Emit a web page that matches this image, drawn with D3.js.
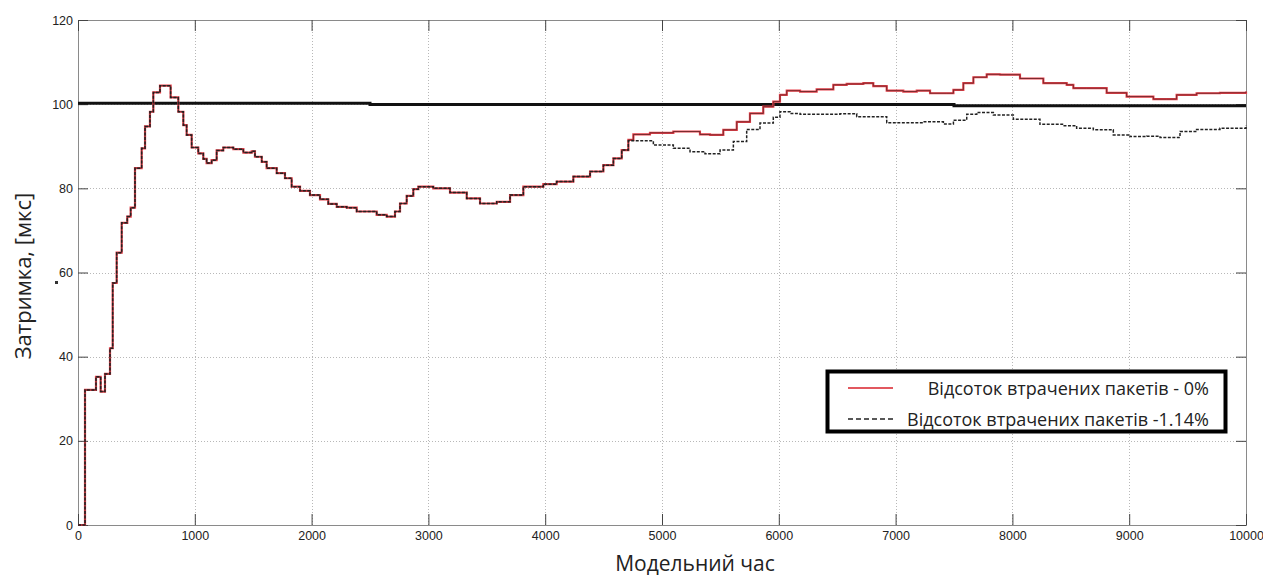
<!DOCTYPE html>
<html>
<head>
<meta charset="utf-8">
<script src="https://cdn.jsdelivr.net/npm/d3@7"></script>
<style>
  html, body { margin: 0; padding: 0; background: #fff; }
  svg { display: block; }
</style>
</head>
<body>
<svg id="chart" width="1263" height="578"></svg>
<script>
// ---- data ----
const xTicks = [0, 1000, 2000, 3000, 4000, 5000, 6000, 7000, 8000, 9000, 10000];
const yTicks = [0, 20, 40, 60, 80, 100, 120];

const redTimes = [0, 60, 154, 194, 231, 274, 297, 331, 374, 422, 451, 488, 545, 574, 616, 645, 702, 793, 859, 902, 930, 973, 1030, 1073, 1101, 1144, 1187, 1244, 1330, 1416, 1487, 1515, 1573, 1615, 1701, 1772, 1829, 1901, 1986, 2072, 2143, 2215, 2301, 2386, 2557, 2643, 2714, 2757, 2814, 2871, 2914, 3042, 3185, 3328, 3442, 3585, 3699, 3813, 3984, 4098, 4241, 4384, 4498, 4584, 4655, 4712, 4755, 4897, 5097, 5325, 5411, 5525, 5640, 5753, 5867, 5953, 6010, 6068, 6182, 6324, 6467, 6581, 6724, 6809, 6924, 7066, 7181, 7295, 7438, 7495, 7580, 7666, 7780, 7894, 8065, 8265, 8465, 8522, 8636, 8807, 8978, 9092, 9207, 9321, 9406, 9577, 9777, 10000];
const redValues = [0, 32.1, 35.2, 31.7, 35.9, 42, 57.5, 64.7, 71.8, 73.3, 75.4, 84.8, 89.5, 94.7, 98.2, 102.8, 104.4, 101.6, 98.2, 95, 92.7, 89.7, 88.3, 87, 86, 86.7, 89, 89.7, 89.3, 88.5, 88.8, 87.5, 86.3, 84.8, 83.6, 82.4, 80.4, 79.4, 78.4, 77.4, 76.3, 75.6, 75.4, 74.5, 73.7, 73.3, 74.5, 76.4, 78.2, 79.8, 80.4, 80, 79, 77.6, 76.4, 76.8, 78.4, 80.4, 81, 81.6, 82.8, 84, 85.5, 87.1, 89.1, 91.5, 92.8, 93.2, 93.5, 92.8, 92.7, 93.9, 95.8, 97.8, 99.4, 100.6, 102.2, 103.2, 103, 103.5, 104.6, 104.8, 105, 104.3, 103.2, 103, 103.2, 102.6, 102.6, 103.4, 105, 106.4, 107.1, 107, 106.1, 105, 104.6, 103.8, 103.8, 102.7, 101.8, 101.8, 101.2, 101.2, 102.2, 102.6, 102.7, 103];

// dashed series: identical to the red one up to t = 4655, then its own readings
const dashTimesTail = [4712, 4755, 4926, 5097, 5240, 5368, 5497, 5611, 5725, 5839, 5953, 6010, 6096, 6182, 6524, 6667, 6781, 6924, 7095, 7238, 7409, 7495, 7609, 7695, 7837, 8008, 8236, 8436, 8550, 8693, 8864, 9007, 9150, 9264, 9435, 9577, 9777, 10000];
const dashValuesTail = [91.3, 91.3, 90.3, 89.5, 88.7, 88.2, 89.1, 91.1, 94, 95.5, 96.9, 98.2, 97.8, 97.6, 97.7, 97, 97, 95.6, 95.6, 95.8, 95.3, 96.2, 97.6, 98, 97.4, 96.4, 95.2, 94.9, 94.3, 93.9, 92.7, 92.3, 92.4, 92.1, 93.5, 94, 94.3, 95];
const sharedCount = 65; // points of the red series up to t = 4655

const refTimes = [0, 2500, 7500, 10000];
const refValues = [100.2, 99.9, 99.6, 99.6];

const seriesLabels = ["Відсоток втрачених пакетів - 0%", "Відсоток втрачених пакетів -1.14%"];
const xTitle = "Модельний час";
const yTitle = "Затримка, [мкс]";

// ---- layout ----
const svg = d3.select("#chart");
const L = 78, R = 1246, T = 20, B = 525;
const x = d3.scaleLinear().domain([0, 10000]).range([L, R]);
const y = d3.scaleLinear().domain([0, 120]).range([B, T]);

const redData = redTimes.map((t, i) => [t, redValues[i]]);
const dashData = redData.slice(0, sharedCount).concat(dashTimesTail.map((t, i) => [t, dashValuesTail[i]]));
const refData = refTimes.map((t, i) => [t, refValues[i]]);

// grid
const grid = svg.append("g").attr("stroke", "#b8b8b8").attr("stroke-width", 1).attr("stroke-dasharray", "1,2");
grid.selectAll("line.v").data(xTicks.slice(1, -1)).join("line")
  .attr("x1", d => Math.round(x(d)) + 0.5).attr("x2", d => Math.round(x(d)) + 0.5)
  .attr("y1", T).attr("y2", B);
grid.selectAll("line.h").data(yTicks.slice(1, -1)).join("line")
  .attr("y1", d => Math.round(y(d)) + 0.5).attr("y2", d => Math.round(y(d)) + 0.5)
  .attr("x1", L).attr("x2", R);

// frame
svg.append("rect").attr("x", L + 0.5).attr("y", T + 0.5).attr("width", R - L).attr("height", B - T)
  .attr("fill", "none").attr("stroke", "#8a8a8a").attr("stroke-width", 1);

// axes with inward ticks
const axB = svg.append("g").attr("transform", `translate(0,${B})`)
  .call(d3.axisBottom(x).tickValues(xTicks).tickFormat(d3.format("d")).tickSizeInner(-11).tickSizeOuter(0).tickPadding(6));
const axT = svg.append("g").attr("transform", `translate(0,${T})`)
  .call(d3.axisTop(x).tickValues(xTicks).tickFormat("").tickSizeInner(-11).tickSizeOuter(0));
const axL = svg.append("g").attr("transform", `translate(${L},0)`)
  .call(d3.axisLeft(y).tickValues(yTicks).tickFormat(d3.format("d")).tickSizeInner(-10).tickSizeOuter(0).tickPadding(5));
const axR = svg.append("g").attr("transform", `translate(${R},0)`)
  .call(d3.axisRight(y).tickValues(yTicks).tickFormat("").tickSizeInner(-10).tickSizeOuter(0));
[axB, axT, axL, axR].forEach(a => {
  a.select(".domain").remove();
  a.selectAll(".tick line").attr("stroke", "#444");
  a.selectAll("text").attr("font-family", "'Liberation Sans', Arial, sans-serif").attr("font-size", 12.5).attr("fill", "#222");
});

// reference line
svg.append("path").datum(refData)
  .attr("d", d3.line().x(d => x(d[0])).y(d => y(d[1])).curve(d3.curveStepAfter))
  .attr("fill", "none").attr("stroke", "#111").attr("stroke-width", 3);

// red series (halo + core)
const step = d3.line().x(d => x(d[0])).y(d => y(d[1])).curve(d3.curveStepAfter);
svg.append("path").datum(redData).attr("d", step)
  .attr("fill", "none").attr("stroke", "#e8404a").attr("stroke-width", 2.2);
svg.append("path").datum(redData).attr("d", step)
  .attr("fill", "none").attr("stroke", "#7a2a2e").attr("stroke-width", 1);

// dashed series
svg.append("path").datum(dashData).attr("d", step)
  .attr("fill", "none").attr("stroke", "#222").attr("stroke-width", 1.5).attr("stroke-dasharray", "3,1.5");

// stray mark near y-axis
svg.append("rect").attr("x", 55).attr("y", 281).attr("width", 3).attr("height", 3).attr("fill", "#333");

// axis titles
svg.append("text").attr("x", 695).attr("y", 571).attr("text-anchor", "middle")
  .attr("font-family", "'Open Sans', 'Noto Sans', sans-serif").attr("font-size", 21).attr("fill", "#222")
  .text(xTitle);
svg.append("text").attr("transform", "translate(31,276) rotate(-90)").attr("text-anchor", "middle")
  .attr("font-family", "'Open Sans', 'Noto Sans', sans-serif").attr("font-size", 22).attr("fill", "#222")
  .text(yTitle);

// legend
const lg = svg.append("g");
lg.append("rect").attr("x", 827.5).attr("y", 371.5).attr("width", 398).attr("height", 60)
  .attr("fill", "#fff").attr("stroke", "#000").attr("stroke-width", 4);
lg.append("line").attr("x1", 848).attr("x2", 893).attr("y1", 388).attr("y2", 388)
  .attr("stroke", "#d8202a").attr("stroke-width", 1.6);
lg.append("line").attr("x1", 848).attr("x2", 893).attr("y1", 419).attr("y2", 419)
  .attr("stroke", "#222").attr("stroke-width", 1.6).attr("stroke-dasharray", "5,3");
lg.selectAll("text").data(seriesLabels).join("text")
  .attr("x", 1209).attr("y", (d, i) => 395 + i * 31).attr("text-anchor", "end")
  .attr("font-family", "'Open Sans', 'Noto Sans', sans-serif").attr("font-size", 18).attr("fill", "#222")
  .text(d => d);
</script>
</body>
</html>
